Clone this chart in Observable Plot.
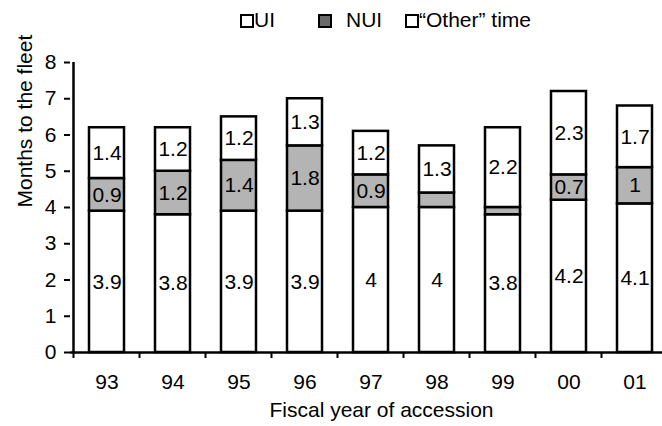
<!DOCTYPE html>
<html>
<head>
<meta charset="utf-8">
<script src="https://cdn.jsdelivr.net/npm/d3@7"></script>
<script src="https://cdn.jsdelivr.net/npm/@observablehq/plot@0.6"></script>
<style>
  body { margin: 0; background: white; font-family: "Liberation Sans", Arial, sans-serif; }
  #wrap { width: 662px; position: relative; }
  #legend { position: relative; height: 40px; font-size: 21px; color: black; }
  .sw { position: absolute; top: 14px; width: 10px; height: 10px; border: 2px solid black; box-sizing: content-box; }
  .lt { position: absolute; top: 9px; line-height: 22px; }
</style>
</head>
<body>
<div id="wrap">
  <div id="legend"></div>
  <div id="chart"></div>
</div>
<script>
const years = ["93", "94", "95", "96", "97", "98", "99", "00", "01"];
const seriesNames = ["UI", "NUI", "Other"];
const legendLabels = ["UI", "NUI", "\u201cOther\u201d time"];
const uiValues = [3.9, 3.8, 3.9, 3.9, 4, 4, 3.8, 4.2, 4.1];
const nuiValues = [0.9, 1.2, 1.4, 1.8, 0.9, 0.4, 0.2, 0.7, 1];
const otherValues = [1.4, 1.2, 1.2, 1.3, 1.2, 1.3, 2.2, 2.3, 1.7];
const seriesColors = ["white", "#b4b4b4", "white"];
const yTicks = [0, 1, 2, 3, 4, 5, 6, 7, 8];

const rows = years.flatMap((year, i) => [
  {year, series: "UI", value: uiValues[i]},
  {year, series: "NUI", value: nuiValues[i]},
  {year, series: "Other", value: otherValues[i]}
]);

// legend
const legend = document.getElementById("legend");
const swLeft = [240, 318, 405];
const txtLeft = [254, 346, 419];
seriesNames.forEach((s, i) => {
  const sw = document.createElement("div");
  sw.className = "sw";
  sw.style.left = swLeft[i] + "px";
  sw.style.background = s === "NUI" ? "#6a6a6a" : seriesColors[i];
  legend.appendChild(sw);
  const t = document.createElement("div");
  t.className = "lt";
  t.style.left = txtLeft[i] + "px";
  t.textContent = legendLabels[i];
  legend.appendChild(t);
});

// y axis line and x boundary ticks drawn from the scales
function axisDecor(index, scales, values, dimensions) {
  const g = d3.create("svg:g");
  const x = scales.x;
  const y = scales.y;
  const step = x.step ? x.step() : 0;
  const bw = x.bandwidth ? x.bandwidth() : 0;
  const left = x(years[0]) - (step - bw) / 2;
  const y0 = y(0);
  g.append("line")
    .attr("x1", left).attr("x2", left)
    .attr("y1", y(8)).attr("y2", y0)
    .attr("stroke", "black").attr("stroke-width", 2.5);
  years.forEach((yr) => {
    const bx = x(yr) - (step - bw) / 2;
    g.append("line")
      .attr("x1", bx).attr("x2", bx)
      .attr("y1", y0).attr("y2", y0 + 6)
      .attr("stroke", "black").attr("stroke-width", 2);
  });
  return g.node();
}

const plot = Plot.plot({
  width: 662,
  height: 386,
  marginLeft: 70,
  marginRight: 0,
  marginTop: 22,
  marginBottom: 74,
  style: {fontFamily: "'Liberation Sans', Arial, sans-serif", fontSize: "21px", color: "black", background: "white", overflow: "visible"},
  x: {domain: years, range: [70, 670], paddingInner: 0.475, paddingOuter: 0.2375, label: null},
  y: {domain: [0, 8], label: null},
  color: {domain: seriesNames, range: seriesColors},
  marks: [
    Plot.barY(rows, {x: "year", y: "value", fill: "series", order: seriesNames, stroke: "black", strokeWidth: 2.5}),
    Plot.text(rows, Plot.stackY({
      x: "year", y: "value", z: "series", order: seriesNames,
      text: (d) => (d.series === "NUI" && d.value < 0.6) ? "" : String(d.value),
      fontSize: 21, fill: "black"
    })),
    Plot.ruleY([0], {stroke: "black", strokeWidth: 2.5}),
    axisDecor,
    Plot.axisY({ticks: yTicks, tickSize: 6, tickPadding: 8, strokeWidth: 2, fontSize: 21, label: null}),
    Plot.axisX({tickSize: 0, tickPadding: 22, fontSize: 21, label: null}),
    Plot.text(["Fiscal year of accession"], {frameAnchor: "bottom", dy: 64, dx: 15, fontSize: 21}),
    Plot.text(["Months to the fleet"], {frameAnchor: "left", dx: -45, rotate: -90, fontSize: 21})
  ]
});
document.getElementById("chart").appendChild(plot);
</script>
</body>
</html>
